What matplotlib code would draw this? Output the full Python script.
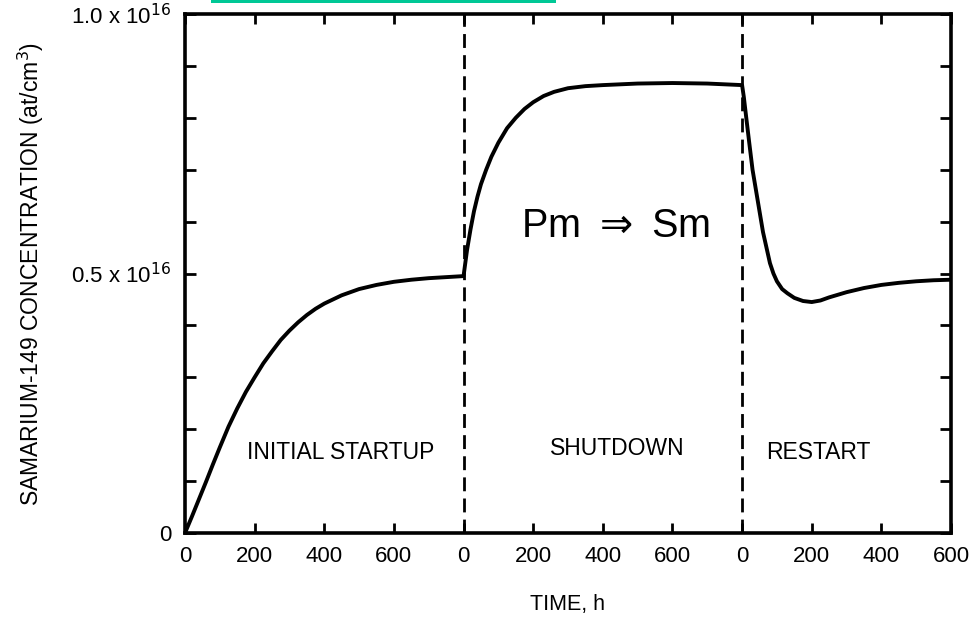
import matplotlib
matplotlib.use("Agg")
import matplotlib.pyplot as plt
from matplotlib.patches import Rectangle
import numpy as np

plt.rcParams['font.family'] = ['Liberation Sans', 'DejaVu Sans']

# Sm-149 concentration (units of 1e16 at/cm^3) vs. continuous time (h)
# Initial startup: 0-800 h, shutdown: 800-1600 h, restart: 1600-2200 h
startup_t = [0, 20, 40, 60, 80, 100, 125, 150, 175, 200, 225, 250, 275, 300, 325, 350, 375,
             400, 450, 500, 550, 600, 650, 700, 750, 800]
startup_n = [0.0, 0.032, 0.065, 0.098, 0.132, 0.165, 0.205, 0.24, 0.272, 0.30, 0.327, 0.35,
             0.372, 0.39, 0.406, 0.42, 0.432, 0.442, 0.458, 0.47, 0.478, 0.484, 0.488, 0.491,
             0.493, 0.495]

shutdown_t = [800, 805, 810, 820, 830, 840, 850, 865, 880, 900, 925, 950, 975, 1000, 1030,
              1060, 1100, 1150, 1200, 1300, 1400, 1500, 1600]
shutdown_n = [0.495, 0.52, 0.545, 0.585, 0.62, 0.648, 0.672, 0.70, 0.725, 0.752, 0.78, 0.80,
              0.817, 0.83, 0.842, 0.85, 0.857, 0.861, 0.863, 0.866, 0.867, 0.866, 0.863]

restart_t = [1600, 1605, 1612, 1620, 1630, 1640, 1650, 1660, 1670, 1680, 1690, 1700, 1715,
             1730, 1750, 1775, 1800, 1825, 1850, 1900, 1950, 2000, 2050, 2100, 2150, 2200]
restart_n = [0.863, 0.84, 0.80, 0.755, 0.70, 0.66, 0.62, 0.58, 0.55, 0.52, 0.50, 0.485, 0.47,
             0.462, 0.453, 0.447, 0.445, 0.448, 0.454, 0.464, 0.472, 0.478, 0.482, 0.485,
             0.487, 0.488]

tick_pos = [0, 200, 400, 600, 800, 1000, 1200, 1400, 1600, 1800, 2000, 2200]
tick_labels = ['0', '200', '400', '600', '0', '200', '400', '600', '0', '200', '400', '600']
ytick_pos = [0.0, 0.5, 1.0]
ytick_labels = ['0', '0.5 x 10$^{16}$', '1.0 x 10$^{16}$']
phase_bounds = [800, 1600]
phase_names = ['INITIAL STARTUP', 'SHUTDOWN', 'RESTART']
phase_label_x = [448, 1243, 1818]
phase_label_y = [0.156, 0.162, 0.156]

narrow = ['Liberation Sans Narrow', 'Liberation Sans']

fig = plt.figure(figsize=(9.8, 6.18), dpi=100)
ax = fig.add_axes([185/980, 1 - 533/618, (951-185)/980, (533-14)/618])

t = startup_t + shutdown_t[1:] + restart_t[1:]
n = startup_n + shutdown_n[1:] + restart_n[1:]
ax.plot(t, n, color='black', lw=2.8, solid_joinstyle='round', solid_capstyle='round')

for b in phase_bounds:
    ax.axvline(b, color='black', lw=2.0, dashes=(5, 2.6))

ax.set_xlim(0, 2200)
ax.set_ylim(0, 1.0)

ax.set_xticks(tick_pos)
ax.set_xticklabels(tick_labels, family=narrow, fontsize=16)
ax.set_yticks(ytick_pos)
ax.set_yticklabels(ytick_labels, fontsize=16)
ax.set_yticks(np.arange(0.1, 1.0, 0.1), minor=True)

ax.tick_params(axis='both', which='both', direction='in', top=True, right=True,
               length=7, width=2, color='black')
ax.tick_params(axis='y', which='both', right=True, length=8)
ax.tick_params(axis='x', pad=9)
ax.tick_params(axis='y', pad=10)
for s in ax.spines.values():
    s.set_linewidth(2.6)

ax.set_xlabel('TIME, h', family=narrow, fontsize=15.5, labelpad=20)
ax.set_ylabel('SAMARIUM-149 CONCENTRATION (at/cm$^3$)', fontsize=16.5, labelpad=18)

for name, x, y in zip(phase_names, phase_label_x, phase_label_y):
    ax.text(x, y, name, ha='center', va='center', fontsize=16.5)

ax.text(1235, 0.592, 'Pm $\\Rightarrow$ Sm', ha='center', va='center', fontsize=28.5)

fig.patches.append(Rectangle((211/980, 1 - 3/618), (556-211)/980, 3/618,
                             transform=fig.transFigure, color='#00c896', lw=0))

fig.savefig('out.png', dpi=100)
